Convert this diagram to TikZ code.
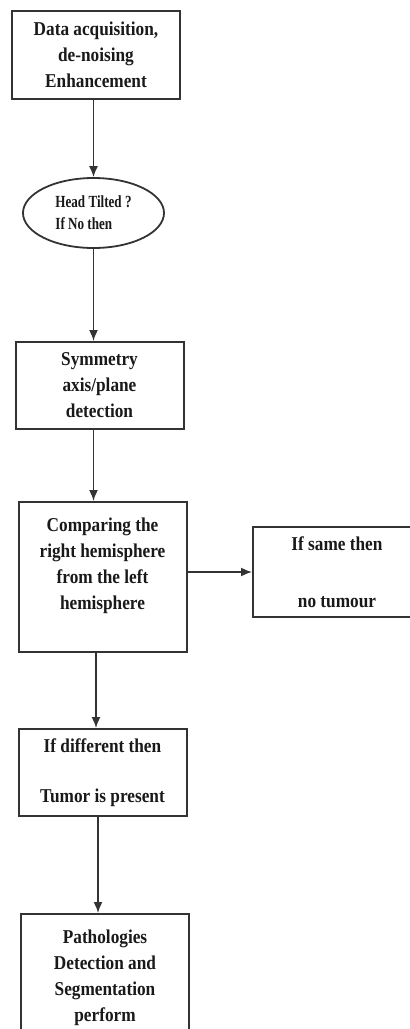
\documentclass[tikz,border=0pt]{standalone}
\usepackage{fontspec}
\setmainfont{Liberation Serif}[FakeStretch=0.88]
\newfontfamily\ovalfont{Liberation Serif}[FakeStretch=0.77]
\usetikzlibrary{arrows.meta}
\usetikzlibrary{shapes.geometric}
\tikzset{
  Kasten/.style={draw=black!80, line width=1pt, rectangle, inner sep=0pt,
    minimum width=84pt, minimum height=#1, align=center, text=black!90,
    font=\fontsize{9.8}{13}\selectfont\bfseries}, % Rechteck
  Oval/.style={draw=black!80, line width=0.9pt, ellipse, inner sep=0pt,
    minimum width=70.5pt, minimum height=35pt, align=left, text=black!90,
    font=\ovalfont\fontsize{8.5}{11}\selectfont\bfseries}, % Abfrage
  Pfeil/.style={draw=black!80, line width=0.8pt, ->} % Verbindungen
}

\begin{document}
\begin{tikzpicture}[x=0.5pt, y=-0.5pt,
>={Latex[length=5.5pt,width=4.5pt]} % Pfeilspitzen
]
\useasboundingbox (0,0) rectangle (410,1029);

%Kaesten
\node[Kasten=44pt] (Daten) at (96,55) {Data acquisition,\\de-noising\\Enhancement};
\node[Oval] (Kopf) at (93.5,213) {Head Tilted ?\\If No then};
\node[Kasten=43.5pt] (Achse) at (99.5,385.5) {Symmetry\\axis/plane\\detection};
\node[Kasten=75pt] (Vergleich) at (102.5,577) {Comparing the\\right hemisphere\\from the left\\hemisphere\\\mbox{}};
\node[Kasten=45pt] (Gleich) at (337,572) {If same then\\[15.5pt]no tumour};
\node[Kasten=43.5pt] (Verschieden) at (102.5,772.5) {If different then\\[12pt]Tumor is present};
\node[Kasten=75pt] (Befund) at (105,989) {Pathologies\\Detection and\\Segmentation\\perform\\\mbox{}};

%Pfeile
\draw[Pfeil] (Kopf.north |- Daten.south) -- (Kopf.north);
\draw[Pfeil] (Kopf.south) -- (Kopf.south |- Achse.north);
\draw[Pfeil] (Kopf.south |- Achse.south) -- (Kopf.south |- Vergleich.north);
\draw[Pfeil] (Vergleich.east |- Gleich.west) -- (Gleich.west);
\draw[Pfeil] ([xshift=-3.25pt]Vergleich.south) -- ([xshift=-3.25pt]Vergleich.south |- Verschieden.north);
\draw[Pfeil] ([xshift=-2.25pt]Verschieden.south) -- ([xshift=-2.25pt]Verschieden.south |- Befund.north);

\end{tikzpicture}
\end{document}
